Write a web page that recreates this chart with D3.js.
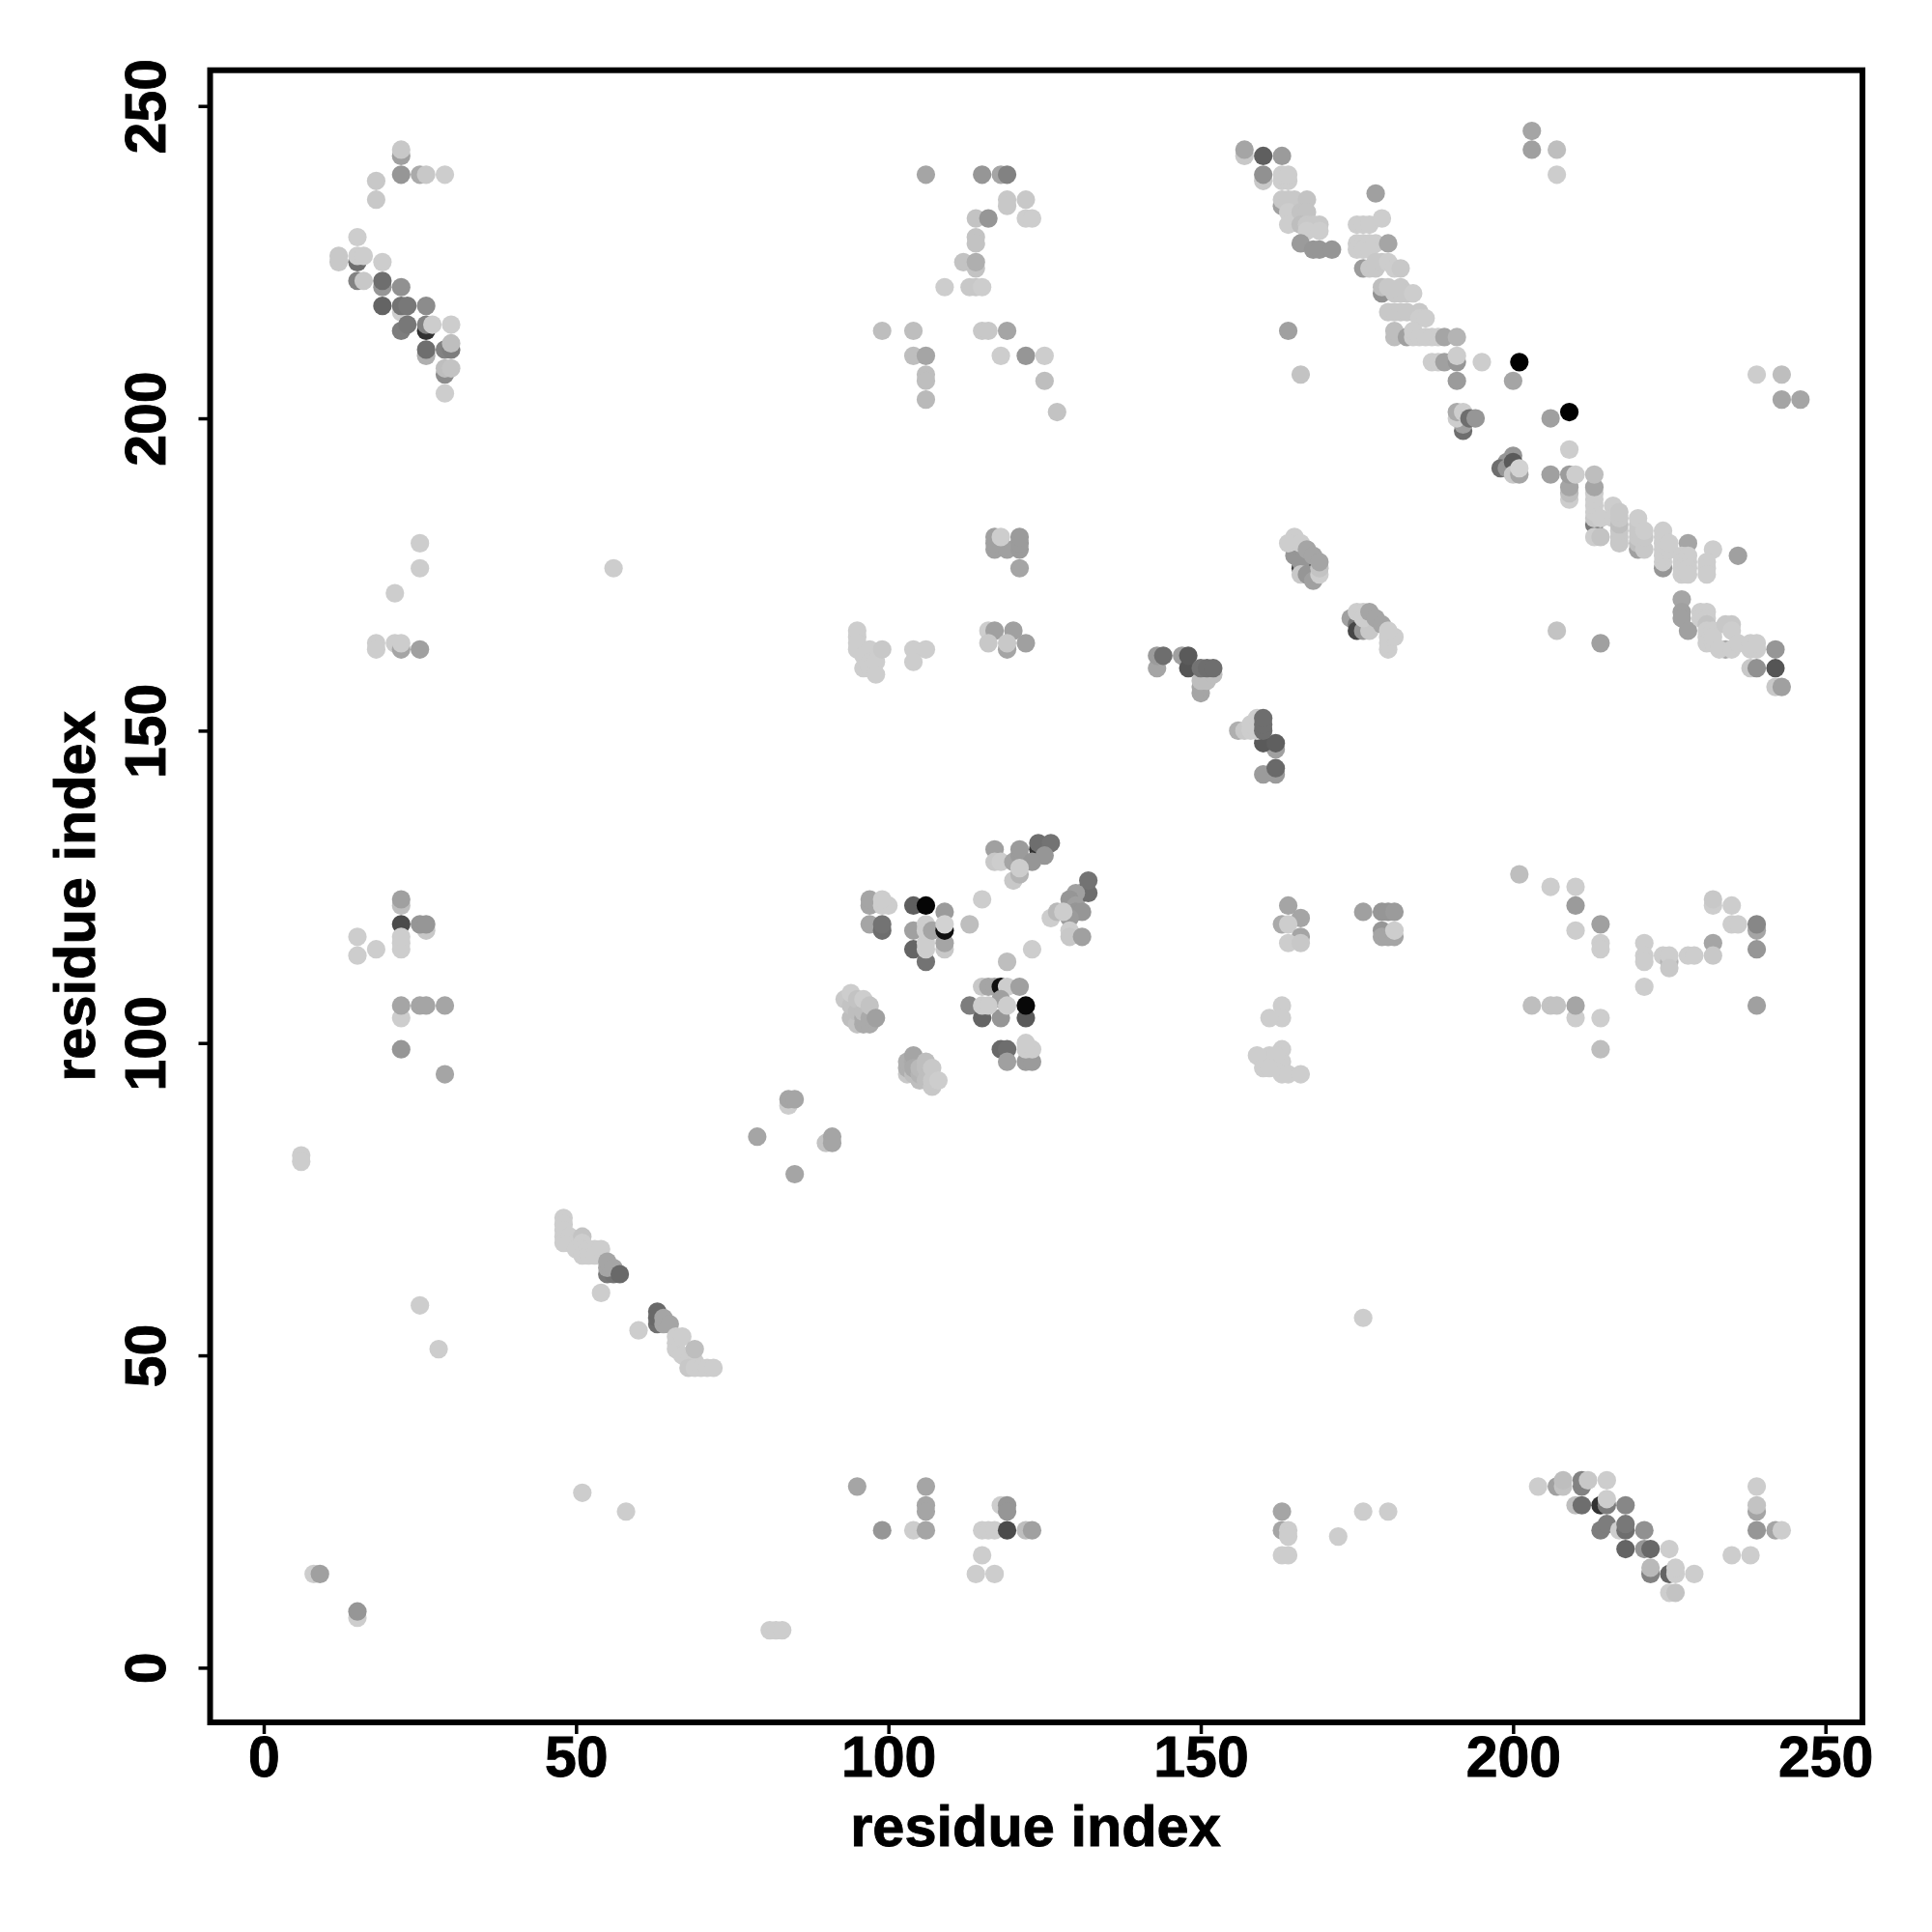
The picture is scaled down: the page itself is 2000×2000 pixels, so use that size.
<!DOCTYPE html>
<html><head><meta charset="utf-8">
<script src="https://cdn.jsdelivr.net/npm/d3@7"></script>
<style>html,body{margin:0;padding:0;background:#fff}svg{display:block}</style>
</head><body><div id="chart"></div>
<script>
// each contact: [residue x, residue y, grey level]
const nTerminalBand = [[15,229,205],[12,225,200],[12,226,200],[15,225,110],[15,226,205],[16,226,205],[15,222,130],[16,222,200],[19,225,205],[19,221,150],[19,222,110],[19,218,100],[22,221,145],[22,217,205],[22,218,115],[23,218,120],[26,218,140],[22,214,125],[23,215,120],[26,214,50],[26,215,130],[27,215,205],[30,215,205],[26,210,175],[26,211,110],[29,211,130],[30,211,125],[30,212,190],[29,207,140],[29,208,190],[30,208,195],[29,204,205],[22,242,160],[22,243,200],[22,239,150],[25,239,170],[26,239,200],[29,239,205],[18,238,200],[18,235,200]];
const leftUpper = [[25,180,205],[25,176,205],[21,172,205],[56,176,205],[18,164,205],[18,163,205],[21,164,205],[22,163,165],[22,164,205],[25,163,160]];
const col95Upper = [[95,166,205],[95,165,205],[95,164,205],[95,163,205],[96,162,205],[96,160,205],[97,163,205],[97,161,205],[97,160,205],[98,161,205],[98,159,205],[99,163,200],[104,163,205],[106,163,205],[104,161,205]];
const midTop = [[106,239,165],[115,239,150],[118,239,165],[119,239,130],[119,235,200],[119,234,200],[122,235,200],[114,232,195],[116,232,150],[122,232,205],[123,232,205],[114,229,195],[114,228,195],[112,225,195],[114,224,195],[114,225,175],[109,221,205],[113,221,200],[114,221,200],[115,221,205],[99,214,190],[104,214,190],[104,210,190],[106,210,165],[106,207,190],[106,206,190],[106,203,185],[115,214,200],[116,214,200],[119,214,165],[118,210,205],[122,210,150],[125,210,205],[125,206,190],[127,201,195]];
const diagonalTop = [[157,242,200],[157,243,165],[160,242,95],[163,242,155],[160,238,200],[160,239,145],[163,238,205],[164,238,205],[163,239,205],[164,239,205],[163,234,160],[163,235,200],[164,235,200],[165,235,200],[167,235,195],[164,233,205],[166,233,195],[167,233,195],[164,231,205],[166,231,190],[167,231,200],[168,231,200],[169,231,200],[167,230,205],[169,230,205],[166,228,155],[168,227,150],[169,227,150],[171,227,150],[164,214,160],[166,207,195],[178,236,160],[175,231,205],[176,231,205],[177,231,205],[179,232,205],[175,228,205],[176,228,205],[177,228,205],[178,228,205],[180,228,165],[175,227,205],[176,227,205],[177,227,205],[176,224,155],[177,224,200],[178,224,200],[178,225,200],[179,225,200],[180,225,205],[181,224,205],[182,224,200],[179,220,145],[179,221,190],[180,221,200],[181,220,200],[182,220,200],[182,221,200],[183,220,200],[184,220,205],[180,217,200],[181,217,200],[182,217,200],[183,217,200],[185,217,200],[185,216,205],[186,216,205],[181,213,190],[181,214,190],[183,213,160],[184,213,205],[184,214,205],[185,213,205],[186,213,205],[187,213,205],[188,213,205],[189,213,165],[191,213,180],[187,209,205],[188,209,205],[189,209,160],[191,209,150],[191,210,205],[195,209,205],[201,209,0],[191,206,155],[200,206,165]];
const diagonalLower = [[209,201,0],[206,200,160],[192,198,110],[192,199,160],[191,200,205],[191,201,170],[192,201,205],[193,200,110],[194,200,150],[200,194,150],[199,193,150],[198,192,110],[199,192,150],[200,193,90],[200,191,200],[201,191,165],[201,192,210],[209,195,205],[206,191,160],[209,187,205],[209,188,190],[209,189,165],[209,191,155],[210,191,205],[213,183,120],[213,184,200],[213,185,205],[213,186,205],[213,187,205],[213,188,205],[213,189,165],[213,191,190],[213,181,205],[214,181,195],[214,184,205],[216,186,205],[216,184,205],[217,180,200],[217,181,200],[217,182,200],[217,183,190],[217,184,200],[217,185,200],[220,179,160],[220,180,190],[220,181,200],[220,182,200],[220,183,200],[220,184,205],[221,179,200],[221,181,200],[221,182,205],[224,176,150],[224,177,205],[224,178,205],[224,179,205],[224,180,205],[224,181,205],[224,182,205],[225,179,205],[225,180,205],[228,180,165],[227,178,205],[228,178,205],[227,177,205],[228,177,205],[227,176,205],[228,176,205],[227,175,205],[228,175,205],[232,179,205],[231,177,205],[231,176,205],[231,175,205],[236,178,160],[207,166,195],[214,164,160]];
const diagonalEnd = [[227,171,165],[227,169,160],[227,168,160],[228,166,160],[230,169,205],[231,169,205],[230,168,205],[231,168,205],[231,167,195],[231,166,205],[231,165,205],[231,164,205],[232,166,205],[232,164,205],[232,165,205],[234,167,200],[235,167,200],[234,163,170],[235,166,205],[233,163,205],[235,163,205],[236,164,205],[238,163,205],[239,163,205],[238,164,205],[239,164,205],[242,163,150],[238,160,200],[239,160,145],[242,160,85],[242,157,200],[243,157,160]];
const blocks = [[203,246,165],[203,243,160],[207,243,190],[207,239,205],[239,207,205],[243,207,190],[243,203,165],[246,203,165]];
const strand165 = [[166,176,70],[167,176,70],[165,179,160],[165,178,150],[166,177,150],[166,175,200],[167,175,150],[168,174,160],[165,181,205],[164,180,205],[166,180,205],[167,179,165],[168,178,165],[169,175,205],[169,176,195],[169,177,165]];
const strand175 = [[174,168,160],[175,167,120],[175,166,70],[176,166,150],[177,166,200],[175,169,205],[176,169,205],[176,168,205],[177,169,165],[178,168,165],[179,167,165],[180,163,205],[180,164,205],[180,165,205],[181,165,205],[180,166,205]];
const col118Upper = [[117,179,160],[117,180,160],[117,181,160],[119,179,160],[118,181,205],[121,176,165],[121,179,155],[121,180,155],[121,181,155],[116,166,205],[117,166,160],[120,166,160],[116,164,200],[119,163,165],[119,164,200],[122,164,160]];
const strand145 = [[143,160,165],[143,162,155],[144,162,110],[147,162,160],[148,160,85],[148,162,90],[150,156,165],[150,157,165],[150,158,190],[151,158,190],[152,159,190],[150,160,115],[151,160,110],[152,160,110]];
const strand155 = [[160,143,155],[162,143,155],[162,144,105],[162,147,160],[160,148,90],[162,148,95],[156,150,175],[157,150,200],[158,150,205],[159,150,205],[158,151,205],[159,152,205],[160,150,110],[160,151,110],[160,152,110]];
const centreUpper = [[117,131,160],[117,129,200],[118,129,205],[120,129,165],[121,130,155],[121,131,155],[124,131,50],[124,132,110],[126,132,115],[125,130,150],[123,129,150],[120,126,200],[121,127,180],[121,128,205],[131,124,50],[132,124,110],[132,126,115],[130,124,160],[129,123,150],[130,122,160],[130,121,150],[131,121,150],[129,120,155],[129,118,205],[129,117,200],[131,117,160],[126,120,205],[127,121,185],[128,121,205],[115,123,205],[113,119,190],[123,115,205],[119,113,190]];
const centreLeft = [[97,122,165],[97,123,165],[99,122,205],[100,122,205],[99,123,205],[97,119,165],[99,118,110],[99,119,115],[104,122,95],[106,122,5],[109,121,155],[104,118,160],[104,115,100],[106,113,115],[106,115,205],[106,116,205],[106,118,205],[106,119,205],[107,118,165],[109,115,200],[109,116,165],[109,118,15],[109,119,210]];
const centreMid = [[115,109,200],[116,109,165],[117,109,165],[118,109,15],[119,109,205],[121,109,160],[118,107,160],[113,106,125],[115,104,100],[118,104,150],[122,104,90],[115,106,205],[116,106,205],[119,106,205],[122,106,8],[118,99,105],[119,99,110],[119,97,160],[122,97,155],[123,97,155],[122,99,205],[123,99,205],[122,100,205]];
const blob95 = [[93,107,200],[94,104,190],[94,106,195],[94,108,205],[95,103,195],[95,105,190],[95,107,195],[96,103,170],[96,104,170],[96,105,190],[96,107,205],[97,103,170],[97,104,170],[97,106,195],[98,104,160]];
const blob103 = [[103,95,200],[103,96,175],[103,97,175],[104,95,190],[104,97,170],[104,98,165],[104,96,170],[105,94,190],[105,95,180],[105,96,185],[106,94,190],[106,96,190],[106,97,190],[107,93,200],[107,94,200],[107,96,200],[108,94,205]];
const leftMiddle = [[22,122,190],[22,123,160],[22,119,75],[26,118,200],[25,119,150],[26,119,150],[15,117,205],[15,114,205],[18,115,205],[22,115,205],[22,116,205],[22,117,205],[22,104,205],[22,106,165],[25,106,165],[26,106,165],[29,106,165],[22,99,150],[29,95,165],[6,82,205],[6,81,205]];
const lowerDiagonal = [[48,72,205],[48,71,205],[48,70,205],[48,69,205],[48,68,205],[49,69,205],[49,68,205],[50,68,205],[50,67,205],[51,69,195],[51,68,205],[51,67,205],[51,66,205],[52,67,205],[52,66,205],[53,67,205],[53,66,205],[54,67,205],[55,63,120],[56,63,115],[55,64,165],[55,65,165],[56,64,165],[57,63,105],[54,60,205],[25,58,205],[28,51,205],[60,54,205],[63,55,110],[63,56,105],[63,57,105],[64,55,165],[64,56,165],[65,55,165],[66,51,205],[66,52,205],[66,53,205],[67,53,205],[67,50,205],[68,49,205],[69,49,205],[69,51,190],[68,48,200],[69,48,205],[70,48,205],[71,48,205],[72,48,205]];
const lowerLeft = [[51,28,205],[58,25,205],[79,85,165],[84,90,205],[84,91,165],[85,91,165],[85,79,165],[90,84,195],[91,85,165],[91,84,165],[95,29,165],[99,22,150],[104,22,205],[106,22,165],[106,29,165],[106,26,165],[106,25,165],[8,15,205],[9,15,160],[15,8,205],[15,9,150],[81,6,205],[82,6,205],[83,6,205]];
const lowerMid = [[115,18,205],[114,15,205],[117,15,205],[115,22,205],[116,22,205],[118,26,205],[117,22,205],[119,26,150],[119,25,150],[119,22,75],[122,22,190],[123,22,160],[163,25,165],[163,22,165],[164,22,205],[164,21,205],[163,18,205],[164,18,205],[172,21,205],[176,25,205],[180,25,205],[176,56,205]];
const lowerRight = [[204,29,205],[207,29,160],[208,29,195],[208,30,190],[211,29,130],[211,30,130],[212,30,200],[215,30,205],[210,26,190],[211,26,110],[214,26,50],[215,26,125],[215,27,205],[218,26,135],[214,22,125],[215,23,125],[217,22,205],[218,22,110],[218,23,120],[221,22,145],[218,19,100],[221,19,150],[222,19,105],[225,19,205],[222,15,130],[222,16,185],[225,15,100],[226,15,205],[226,16,205],[229,15,205],[225,12,205],[226,12,195],[239,29,205],[239,25,165],[239,26,195],[239,22,150],[242,22,165],[243,22,205],[235,18,205],[238,18,205]];
const rightMiddle = [[201,127,190],[206,125,205],[210,125,205],[210,122,155],[210,118,205],[214,119,160],[214,116,205],[214,115,205],[164,122,165],[166,120,165],[163,119,170],[164,119,205],[166,117,165],[164,116,205],[166,116,200],[176,121,160],[179,121,150],[180,121,150],[181,121,155],[179,118,150],[179,117,165],[180,117,165],[181,117,165],[181,118,205],[221,116,205],[221,114,205],[221,113,205],[224,114,205],[225,113,180],[225,114,205],[228,114,205],[229,114,205],[232,116,165],[232,114,200],[232,122,205],[232,123,200],[235,122,205],[235,119,205],[236,119,205],[239,118,165],[239,119,135],[239,115,150],[225,112,200],[221,109,205],[203,106,190],[206,106,195],[207,106,195],[210,104,205],[210,106,165],[214,104,205],[214,99,190],[239,106,160]];
const col160Middle = [[163,106,205],[163,104,205],[161,104,205],[163,99,205],[163,97,205],[159,98,205],[161,98,205],[162,98,205],[160,96,205],[161,96,205],[163,95,205],[164,95,205],[166,95,205]];
const xTickValues = [0,50,100,150,200,250];
const yTickValues = [0,50,100,150,200,250];
const xAxisLabel = "residue index";
const yAxisLabel = "residue index";

const contacts = [].concat(nTerminalBand,leftUpper,col95Upper,midTop,diagonalTop,diagonalLower,diagonalEnd,blocks,strand165,strand175,col118Upper,strand145,strand155,centreUpper,centreLeft,centreMid,blob95,blob103,leftMiddle,lowerDiagonal,lowerLeft,lowerMid,lowerRight,rightMiddle,col160Middle);

const plot = {left:217.5,right:1928,top:72.7,bottom:1783};
const svg = d3.select("#chart").append("svg").attr("width",2000).attr("height",2000);
const x = d3.scaleLinear().domain([0,250]).range([273,1889.7]);
const y = d3.scaleLinear().domain([0,250]).range([1726.4,109.7]);
const font = "'Liberation Sans',Arial,sans-serif";

svg.append("g").selectAll("circle").data(contacts).join("circle")
  .attr("cx",d=>x(d[0])).attr("cy",d=>y(d[1])).attr("r",9.6)
  .attr("fill",d=>d3.rgb(d[2],d[2],d[2]));

svg.append("rect").attr("x",plot.left).attr("y",plot.top)
  .attr("width",plot.right-plot.left).attr("height",plot.bottom-plot.top)
  .attr("fill","none").attr("stroke","#000").attr("stroke-width",6);

const gx = svg.append("g").attr("transform",`translate(0,${plot.bottom})`)
  .call(d3.axisBottom(x).tickValues(xTickValues).tickSize(12).tickPadding(0));
gx.select(".domain").remove();
gx.selectAll("line").attr("stroke","#000").attr("stroke-width",3.5);
gx.selectAll("text").attr("y",56).attr("dy",0)
  .style("font-family",font).style("font-weight","bold").style("font-size","59px")
  .attr("fill","#000").attr("stroke","#000").attr("stroke-width",0.9);

const gy = svg.append("g").attr("transform",`translate(${plot.left},0)`)
  .call(d3.axisLeft(y).tickValues(yTickValues).tickSize(12).tickPadding(0));
gy.select(".domain").remove();
gy.selectAll("line").attr("stroke","#000").attr("stroke-width",3.5);
gy.selectAll("text").attr("x",0).attr("dy",0).attr("text-anchor","middle")
  .attr("transform","translate(-46.5,0) rotate(-90)")
  .style("font-family",font).style("font-weight","bold").style("font-size","59px")
  .attr("fill","#000").attr("stroke","#000").attr("stroke-width",0.9);

svg.append("text").attr("x",1072).attr("y",1911).attr("text-anchor","middle")
  .style("font-family",font).style("font-weight","bold").style("font-size","59.5px")
  .attr("stroke","#000").attr("stroke-width",0.9).text(xAxisLabel);
svg.append("text").attr("transform","translate(97.5,928) rotate(-90)").attr("text-anchor","middle")
  .style("font-family",font).style("font-weight","bold").style("font-size","59.5px")
  .attr("stroke","#000").attr("stroke-width",0.9).text(yAxisLabel);
</script></body></html>
